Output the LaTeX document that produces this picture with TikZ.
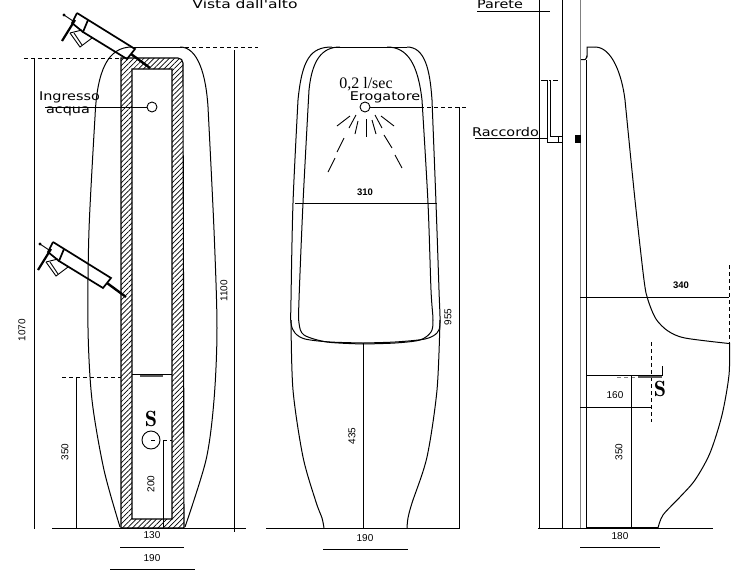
\documentclass[tikz,border=0pt]{standalone}
\usepackage{fontspec}
\setmainfont{Liberation Sans}
\newfontfamily\cadfont{DejaVu Sans}
\newfontfamily\serifnum{Liberation Serif}
\usetikzlibrary{patterns.meta}
\tikzset{
  body/.style={line width=1pt},
  dimline/.style={line width=0.9pt},
  thickline/.style={line width=1.7pt},
  dashline/.style={line width=0.9pt, dash pattern=on 4pt off 3pt},
  dimtxt/.style={font=\fontsize{10}{10}\selectfont},
  dimbold/.style={font=\bfseries\fontsize{9.5}{10}\selectfont},
  cadtxt/.style={font=\cadfont\fontsize{12}{12}\selectfont, xscale=1.2},
  boldS/.style={font=\fontfamily{lmr}\fontsize{22}{22}\bfseries\selectfont},
}
\begin{document}
\begin{tikzpicture}[x=1pt,y=-1pt]
\useasboundingbox (0,0) rectangle (745,579);
% vista dall'alto
\node[cadtxt,xscale=1.08] (vista) at (245,4){Vista dall'alto};
\draw[body] (132,47) .. controls (108,47) and (97,70) .. (95,117);
\draw[body] plot[smooth] coordinates {(95,117) (89,230) (88,328) (92,400) (104,470) (120,527)};
\draw[body] (132,47) -- (180,47);
\draw[body] (180,47) .. controls (198,47) and (206,75) .. (208,107);
\draw[body] plot[smooth] coordinates {(208,107) (214,230) (217,328) (214,400) (206,460) (185,527)};
% muro tratteggiato
\draw[line width=1.1pt, pattern={Lines[angle=45,distance=3.6pt,line width=0.7pt]}, even odd rule]
  (121,528) -- (121,58) -- (178,58) to[out=0,in=90] (183,63) -- (184,528) -- cycle
  (132,519) -- (172,519) -- (172,69) -- (132,69) -- cycle;
\draw[dimline] (132,374.5) -- (172,374.5);
\draw[line width=2pt,gray!70!black] (140,376) -- (163,376);
% rubinetti
\foreach \dx/\dy in {0/0,-24/229}{
  \begin{scope}[shift={(\dx,\dy)}]
  \draw[thickline] (77,13) -- (135,49) -- (127,59) -- (83,32) -- (88,20);
  \draw[thickline] (77,13) -- (72,23) -- (83,32);
  \draw[line width=2.2pt] (62,41) -- (75,20);
  \draw[dimline] (64,15) -- (73,21);
  \fill (64,15) circle (1.7);
  \draw[dimline] (70,33) -- (80,47) -- (92,38);
  \draw[dimline] (74,33) -- (82,45);
  \draw[dimline] (70,33) -- (82,30);
  \draw[line width=2.4pt] (131,54) -- (150,68);
  \end{scope}
}
% quote vista
\draw[dashline] (24,58) -- (121,58);
\draw[dashline] (150,47) -- (258,47);
\draw[dimline] (34,58) -- (34,529);
\draw[dimline] (234.5,50) -- (234.5,532);
\draw[dimline] (52,528) -- (246,528);
\draw[dashline] (62,377) -- (121,377);
\draw[dimline] (76,377) -- (76,528);
\node[dimtxt,rotate=90] (h1070) at (22,330){1070};
\node[dimtxt,rotate=90] (h1100) at (224,291){1100};
\node[dimtxt,rotate=90] (h350a) at (65,452){350};
\node[circle,draw,line width=0.9pt,minimum size=18pt,inner sep=0pt] (sect) at (151,440){};
\node[boldS] (sA) at (151,419){S};
\draw[dimline] (151,440) -- (155,440);
\draw[dashline] (163,440) -- (172,440);
\draw[dimline] (163,440) -- (163,528);
\node[dimtxt,rotate=90] (h200) at (151,484){200};
\node[dimtxt] (w130) at (152,535.5){130};
\draw[dimline] (120,547) -- (184,547);
\node[dimtxt] (w190a) at (152,558){190};
\draw[dimline] (110,569) -- (195,569);
\node[circle,draw,line width=0.9pt,minimum size=10pt,inner sep=0pt] (inlet) at (152,107){};
\node[cadtxt] (ingresso) at (69.5,97.5){Ingresso};
\node[cadtxt] (acqua) at (68,111.5){acqua};
\coordinate (inletend) at (45,107);
\draw[dimline] (inletend) -- (inlet);
% vista frontale
\draw[body] (332,47) .. controls (310,47) and (302,60) .. (298,100);
\draw[body] plot[smooth] coordinates {(298,100) (293,203) (291,300) (291,323) (295,333) (305,339) (330,342) (363,343)};
\draw[body] (407,47) .. controls (425,47) and (430,70) .. (432,100);
\draw[body] plot[smooth] coordinates {(432,100) (436,203) (439,290) (440,323) (437,333) (425,339) (395,342) (363,343)};
\draw[body] (340,47) .. controls (322,47) and (312,60) .. (309,90);
\draw[body] plot[smooth] coordinates {(309,90) (303,203) (299,300) (299,323) (304,335) (327,342) (363,344)};
\draw[body] (387,47) .. controls (408,47) and (418,65) .. (422,100);
\draw[body] plot[smooth] coordinates {(422,100) (428,203) (431,290) (433,320) (431,332) (420,340) (395,343) (363,344)};
\draw[body] (332,47) -- (407,47);
\draw[body] plot[smooth] coordinates {(291,320) (293,390) (303,457) (316,502) (322,518) (324,528)};
\draw[body] plot[smooth] coordinates {(440,320) (437,390) (427,457) (412,503) (408,518) (407,528)};
\draw[dimline] (266,528) -- (460,528);
\draw[dimline] (363,343) -- (363,528);
\draw[dimline] (295,203) -- (437,203);
\node[dimbold] (w310) at (365,192){310};
\node[dimtxt,rotate=90] (h435) at (352,436){435};
\node[dimtxt,rotate=90] (h955) at (448,317){955};
\node[dimtxt] (w190b) at (365,538){190};
\draw[dimline] (323,549) -- (408,549);
\node[circle,draw,line width=0.9pt,minimum size=10pt,inner sep=0pt] (outlet) at (365,107){};
\coordinate (outletend) at (420,107);
\draw[dimline] (outlet) -- (outletend);
\draw[dashline] (outletend) -- (466,107);
\draw[dimline] (459,107) -- (459,528);
\node[font=\serifnum\fontsize{16}{16}\selectfont] (flow) at (366,84){0,2 l/sec};
\node[cadtxt] (erog) at (385,97.5){Erogatore};
\foreach \xa/\ya/\xb/\yb in {350/116/337/126,356/115/349/128,358/121/355/134,366/119/366/137,372/120/376/134,375/115/382/128,381/116/394/126,344/138/337/152,335/158/328/172,384/135/392/148,395/155/402/168}{
  \draw[dimline] (\xa,\ya) -- (\xb,\yb);
}
% vista laterale
\draw[dimline] (539,0) -- (539,528);
\draw[dimline] (562,0) -- (562,528);
\draw[dimline,gray] (580,0) -- (580,528);
\draw[dimline] (586,60) -- (586,528);
\node[cadtxt] (parete) at (500,4.5){Parete};
\draw[dimline] (477,11) -- (550,11);
\draw[body] (581,59.5) -- (585,59.5) to[out=0,in=90] (587,56) -- (587,47) -- (595,47);
\draw[body] (595,47) .. controls (612,47) and (622,75) .. (625,100);
\draw[body] plot[smooth] coordinates {(625,100) (635,200) (644,280) (648,300) (656,319) (668,331) (685,338) (729,343.5)};
\draw[body] plot[smooth] coordinates {(729.5,343) (729,375) (722,415) (710,453) (695,480) (680,497) (663,515) (658,528)};
\draw[dimline] (538,528) -- (713,528);
\draw[line width=1.2pt] (586,528) -- (658,528);
\draw[dimline] (580,297) -- (729,297);
\node[dimbold] (w340) at (681,285){340};
\draw[dashline] (729,265) -- (729,343);
\draw[dashline] (651,342) -- (651,422);
\draw[dimline] (580,407) -- (651,407);
\node[dimtxt] (w160) at (615,395){160};
\draw[dimline] (586,375) -- (662,375);
\draw[line width=2pt,gray!70!black] (638,376.5) -- (662,376.5);
\draw[dimline] (662,366) -- (662,376);
\draw[dashline,gray] (617,377) -- (638,377);
\node[boldS] (sB) at (660,389){S};
\draw[dimline] (631,376) -- (631,528);
\node[dimtxt,rotate=90] (h350b) at (619,452){350};
\node[dimtxt] (w180) at (620,536){180};
\draw[dimline] (580,547) -- (660,547);
\node[cadtxt] (raccordo) at (505.5,132.5){Raccordo};
\draw[dimline] (475,138.5) -- (548,138.5);
\draw[dimline] (547,80) -- (547,142) -- (562,142);
\draw[dimline] (550,80) -- (550,136) -- (562,136);
\draw[dimline] (558,136) -- (558,142);
\draw[dimline,dash pattern=on 6pt off 2pt on 2pt off 2pt on 6pt] (541,80) -- (558,80);
\fill (575,135) rectangle (581,143);
\end{tikzpicture}
\end{document}
